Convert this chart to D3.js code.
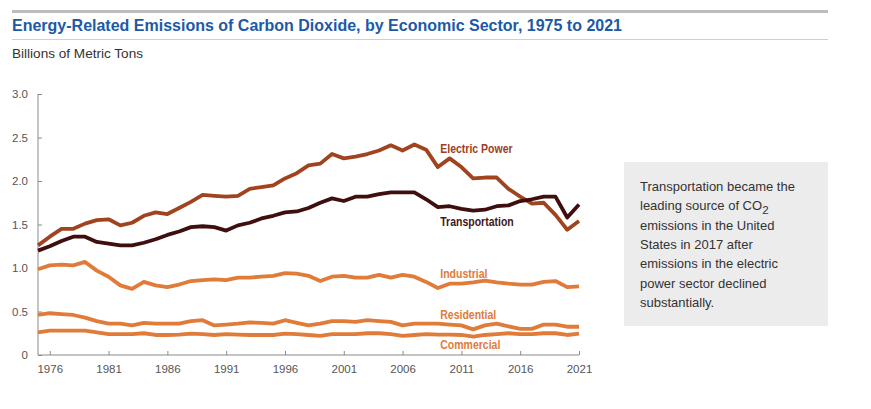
<!DOCTYPE html>
<html>
<head>
<meta charset="utf-8">
<script src="https://cdn.jsdelivr.net/npm/d3@7"></script>
<style>
  html, body { margin: 0; padding: 0; background: #fff; }
  svg { display: block; }
</style>
</head>
<body>
<svg id="chart" width="871" height="409"></svg>
<script>
const years = d3.range(1975, 2022);

const electricPower = [1.26,1.36,1.45,1.45,1.51,1.55,1.56,1.49,1.52,1.60,1.64,1.62,1.69,1.76,1.84,1.83,1.82,1.83,1.91,1.93,1.95,2.03,2.09,2.18,2.20,2.31,2.26,2.28,2.31,2.35,2.41,2.35,2.42,2.36,2.16,2.26,2.16,2.03,2.04,2.04,1.91,1.82,1.74,1.75,1.61,1.44,1.54];
const transportation = [1.20,1.25,1.31,1.36,1.36,1.30,1.28,1.26,1.26,1.29,1.33,1.38,1.42,1.47,1.48,1.47,1.43,1.49,1.52,1.57,1.60,1.64,1.65,1.69,1.75,1.80,1.77,1.82,1.82,1.85,1.87,1.87,1.87,1.79,1.70,1.71,1.68,1.66,1.67,1.71,1.72,1.77,1.79,1.82,1.82,1.58,1.73];
const industrial = [0.985,1.03,1.04,1.03,1.07,0.97,0.90,0.80,0.76,0.84,0.80,0.78,0.81,0.85,0.86,0.87,0.86,0.89,0.89,0.90,0.91,0.94,0.935,0.91,0.85,0.90,0.91,0.89,0.89,0.92,0.89,0.92,0.90,0.84,0.77,0.82,0.82,0.835,0.855,0.835,0.82,0.81,0.81,0.84,0.85,0.78,0.79];
const residential = [0.46,0.48,0.47,0.46,0.43,0.39,0.36,0.36,0.34,0.37,0.36,0.36,0.36,0.39,0.40,0.34,0.35,0.36,0.375,0.37,0.36,0.40,0.37,0.34,0.36,0.39,0.39,0.38,0.40,0.39,0.38,0.34,0.36,0.36,0.36,0.35,0.34,0.295,0.34,0.36,0.33,0.30,0.30,0.35,0.35,0.325,0.325];
const commercial = [0.26,0.28,0.28,0.28,0.28,0.26,0.24,0.24,0.24,0.25,0.23,0.23,0.235,0.245,0.24,0.23,0.24,0.235,0.23,0.23,0.23,0.245,0.24,0.23,0.22,0.24,0.24,0.24,0.25,0.25,0.24,0.22,0.23,0.24,0.235,0.235,0.23,0.21,0.23,0.24,0.25,0.24,0.24,0.25,0.25,0.23,0.245];

const seriesNames = ["Electric Power","Transportation","Industrial","Residential","Commercial"];
const seriesValues = [electricPower, transportation, industrial, residential, commercial];
const seriesColors = ["#a0441f","#3f0f10","#e07b39","#e07b39","#e07b39"];
const labelColors = ["#9b4122","#45151a","#e07b39","#e07b39","#e07b39"];
const labelY = [2.32, 1.48, 0.885, 0.415, 0.07];

const xTicks = [1976,1981,1986,1991,1996,2001,2006,2011,2016,2021];
const yTicks = [0,0.5,1.0,1.5,2.0,2.5,3.0];

const title = "Energy-Related Emissions of Carbon Dioxide, by Economic Sector, 1975 to 2021";
const unitLabel = "Billions of Metric Tons";
const noteLines = ["Transportation became the","leading source of CO","emissions in the United","States in 2017 after","emissions in the electric","power sector declined","substantially."];

const svg = d3.select("#chart");

// header
svg.append("rect").attr("x",12).attr("y",10).attr("width",816).attr("height",3).attr("fill","#bdbdbd");
svg.append("text").attr("x",12).attr("y",31)
  .attr("font-family","'Liberation Sans Narrow','Liberation Sans',Arial,sans-serif")
  .attr("font-weight","bold").attr("font-size",16.5).attr("fill","#1c5aa6")
  .attr("textLength",610).attr("lengthAdjust","spacingAndGlyphs").text(title);
svg.append("rect").attr("x",12).attr("y",39).attr("width",816).attr("height",1).attr("fill","#cfcfcf");
svg.append("text").attr("x",12).attr("y",58)
  .attr("font-family","'Liberation Sans',Arial,sans-serif").attr("font-size",13).attr("fill","#333")
  .attr("textLength",131).attr("lengthAdjust","spacingAndGlyphs")
  .text(unitLabel);

// scales
const x = d3.scaleLinear().domain([1975, 2021]).range([38, 579]);
const y = d3.scaleLinear().domain([0, 3]).range([355, 94]);

const axisColor = "#8a8a8a";
const tickFont = "'Liberation Sans',Arial,sans-serif";

// y axis
const yAxis = svg.append("g").attr("transform","translate(38,0)")
  .call(d3.axisRight(y).tickValues(yTicks).tickSize(4).tickFormat(d => d === 0 ? "0" : d.toFixed(1)));
yAxis.select(".domain").attr("stroke",axisColor).attr("d","M0,94V355");
yAxis.selectAll(".tick line").attr("stroke",axisColor);
yAxis.selectAll(".tick text").attr("x",-10).attr("text-anchor","end")
  .attr("font-family",tickFont).attr("font-size",11.5).attr("fill","#555");

// x axis
const xAxis = svg.append("g").attr("transform","translate(0,355)")
  .call(d3.axisTop(x).tickValues(xTicks).tickSize(4).tickFormat(d3.format("d")));
xAxis.select(".domain").attr("stroke",axisColor).attr("d","M38,0H579");
xAxis.selectAll(".tick line").attr("stroke",axisColor);
xAxis.selectAll(".tick text").attr("y",18).attr("dy",0)
  .attr("font-family",tickFont).attr("font-size",11.5).attr("fill","#555");

// lines
const line = d3.line().x((d,i) => x(years[i])).y(d => y(d));
const order = [4,3,2,0,1];
order.forEach(k => {
  svg.append("path").datum(seriesValues[k])
    .attr("d", line).attr("fill","none")
    .attr("stroke", seriesColors[k]).attr("stroke-width",3.8)
    .attr("stroke-linejoin","round").attr("stroke-linecap","butt");
});

// labels
seriesNames.forEach((n,k) => {
  const lt = svg.append("text").attr("x", x(2009.2)).attr("y", y(labelY[k]))
    .attr("font-family","'Liberation Sans Narrow','Liberation Sans',Arial,sans-serif")
    .attr("font-weight","bold").attr("font-size",12.5).attr("fill",labelColors[k]).text(n);
  const w = lt.node().getComputedTextLength();
  lt.attr("textLength", w * 0.84).attr("lengthAdjust","spacingAndGlyphs");
});

// annotation box
svg.append("rect").attr("x",624).attr("y",162).attr("width",204).attr("height",164).attr("fill","#ececec");
const note = svg.append("g");
noteLines.forEach((ln,i) => {
  const tx = note.append("text").attr("x",640).attr("y",191 + i*19.3)
    .attr("font-family","'Liberation Sans',Arial,sans-serif").attr("font-size",13).attr("fill","#333");
  tx.append("tspan").text(ln);
  if (i === 1) {
    tx.append("tspan").attr("dy",4).attr("font-size",11.5).text("2");
  }
});
</script>
</body>
</html>
